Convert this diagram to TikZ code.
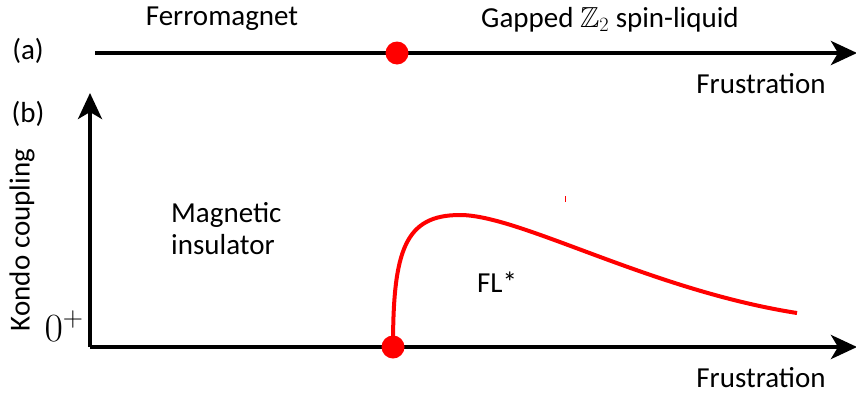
\RequirePackage{fix-cm}
\documentclass[tikz,border=0pt]{standalone}
\usepackage{amssymb}
\DeclareFontFamily{U}{msb}{}
\DeclareFontShape{U}{msb}{m}{n}{<-6> msbm5 <6-8> msbm7 <8-> msbm10}{}
\usepackage{fontspec}
\setmainfont{Carlito}
\usetikzlibrary{arrows.meta}
\begin{document}
\begin{tikzpicture}[x=1pt,y=-1pt,
  lbl/.style={font=\fontsize{29}{34}\selectfont, inner sep=0pt},
  axisline/.style={line width=4pt, -{Stealth[length=26pt,width=24pt,inset=7pt]}},
  dot/.style={circle, fill=red, minimum size=23pt, inner sep=0pt},
  bound/.style={red, line width=4pt}]
\useasboundingbox (0,0) rectangle (856,394);
% (a)
\coordinate (a0) at (95,53);
\coordinate (a1) at (857,53);
\draw[axisline] (a0) -- (a1);
\node[dot] (ad) at (397,53) {};
\node[lbl] (la) at (28,51) {(a)};
\node[lbl] (fm) at (222,19) {Ferromagnet};
\node[lbl] (sl) at (610,19.5) {Gapped $\mathbb{Z}_2$ spin-liquid};
\node[lbl] (fr1) at (761,84) {Frustration};
% (b)
\coordinate (o) at (90,347);
\coordinate (yt) at (90,93);
\coordinate (xt) at (857,347);
\draw[axisline] (o) -- (yt);
\draw[axisline] (o) -- (xt);
\node[lbl] (lb) at (28,114) {(b)};
\node[lbl, rotate=90] (kc) at (22,240) {Kondo coupling};
\node[inner sep=0pt, font=\fontsize{40}{46}\selectfont] (zp) at (64,326) {$0^+$};
\node[lbl] (fr2) at (761,378) {Frustration};
\node[lbl, align=left, anchor=west, font=\fontsize{29}{32}\selectfont] (mi) at (171,229) {Magnetic\\insulator};
\node[lbl] (fl) at (497,282) {FL*};
\node[dot] (bd) at (393,347) {};
\coordinate (pk) at (460,215);
\coordinate (en) at (797,313);
\draw[bound] (bd.center) .. controls (393,250) and (405,215) .. (pk)
  .. controls (520,215) and (650,290) .. (en);
\draw[red, line width=0.8pt] (565,196) -- (565,202);
\end{tikzpicture}
\end{document}
